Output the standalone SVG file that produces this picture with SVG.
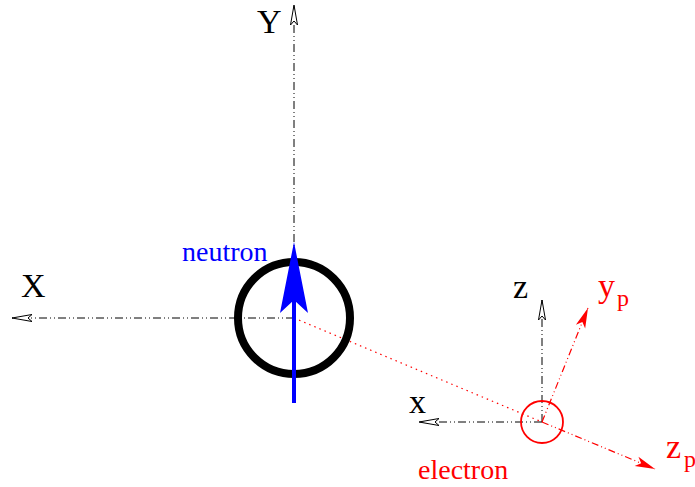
<svg xmlns="http://www.w3.org/2000/svg" width="695" height="487" viewBox="0 0 695 487">
<style>
.axis{stroke:#000;stroke-width:1;fill:none;stroke-dasharray:8 3 1 3 1 3}
.raxis{stroke:#f00;stroke-width:1.2;fill:none;stroke-dasharray:7 3 1 3 1 3}
.dot{stroke:#f00;stroke-width:1.2;fill:none;stroke-dasharray:1.5 4}
.lbl{font-family:"Liberation Serif","Times New Roman",serif;font-size:34px;fill:#000}
.red{fill:#f00}
.blue{fill:#00f}
.sub{font-size:24px}
.name{font-size:28px}
</style>
<defs>
<marker id="open" markerUnits="userSpaceOnUse" markerWidth="24" markerHeight="12" viewBox="-1 -6 24 12" refX="20" refY="0" orient="auto" overflow="visible">
<path d="M20,0 L0,-3.5 L4,0 L0,3.5 Z" fill="#fff" stroke="#000" stroke-width="1" stroke-dasharray="none"/>
</marker>
<marker id="redhead" markerUnits="userSpaceOnUse" markerWidth="24" markerHeight="14" viewBox="-1 -7 24 14" refX="20" refY="0" orient="auto" overflow="visible">
<path d="M20,0 L0,-5 L5,0 L0,5 Z" fill="#f00" stroke="none"/>
</marker>
<marker id="bluehead" markerUnits="userSpaceOnUse" markerWidth="30" markerHeight="30" viewBox="0 -15 72 30" refX="71" refY="0" orient="auto" overflow="visible">
<path d="M71,0 L0,-14 L13,0 L0,14 Z" fill="#00f" stroke="none"/>
</marker>
</defs>
<g id="connectors">
<line class="axis" x1="294" y1="318" x2="294" y2="5" marker-end="url(#open)"/>
<line class="axis" x1="294" y1="318" x2="12" y2="318" marker-end="url(#open)"/>
<line class="axis" x1="542" y1="422" x2="542" y2="300" marker-end="url(#open)"/>
<line class="axis" x1="542" y1="422" x2="419" y2="422" marker-end="url(#open)"/>
<line class="dot" x1="294" y1="318" x2="542" y2="422"/>
<line class="raxis" x1="542" y1="422" x2="588" y2="308" marker-end="url(#redhead)"/>
<line class="raxis" x1="542" y1="422" x2="655" y2="469" marker-end="url(#redhead)"/>
</g>
<g id="neutron">
<circle cx="294" cy="318" r="56" fill="none" stroke="#000" stroke-width="8"/>
<line x1="294" y1="403" x2="294" y2="300" stroke="#00f" stroke-width="4"/>
<path d="M294,242 L280,313 L294,300 L308,313 Z" fill="#00f"/>
<text class="lbl blue name" x="182" y="261">neutron</text>
</g>
<g id="electron">
<circle cx="542" cy="422" r="21" fill="none" stroke="#f00" stroke-width="1.8"/>
<text class="lbl red name" x="418" y="479">electron</text>
</g>
<g id="labels">
<text class="lbl" x="257" y="33">Y</text>
<text class="lbl" x="21" y="297">X</text>
<text class="lbl" x="513" y="298">z</text>
<text class="lbl" x="409" y="413">x</text>
<text class="lbl red" x="598" y="297">y</text>
<text class="lbl red sub" x="617" y="306">p</text>
<text class="lbl red" x="666" y="458">z</text>
<text class="lbl red sub" x="684" y="467">p</text>
</g>
</svg>
